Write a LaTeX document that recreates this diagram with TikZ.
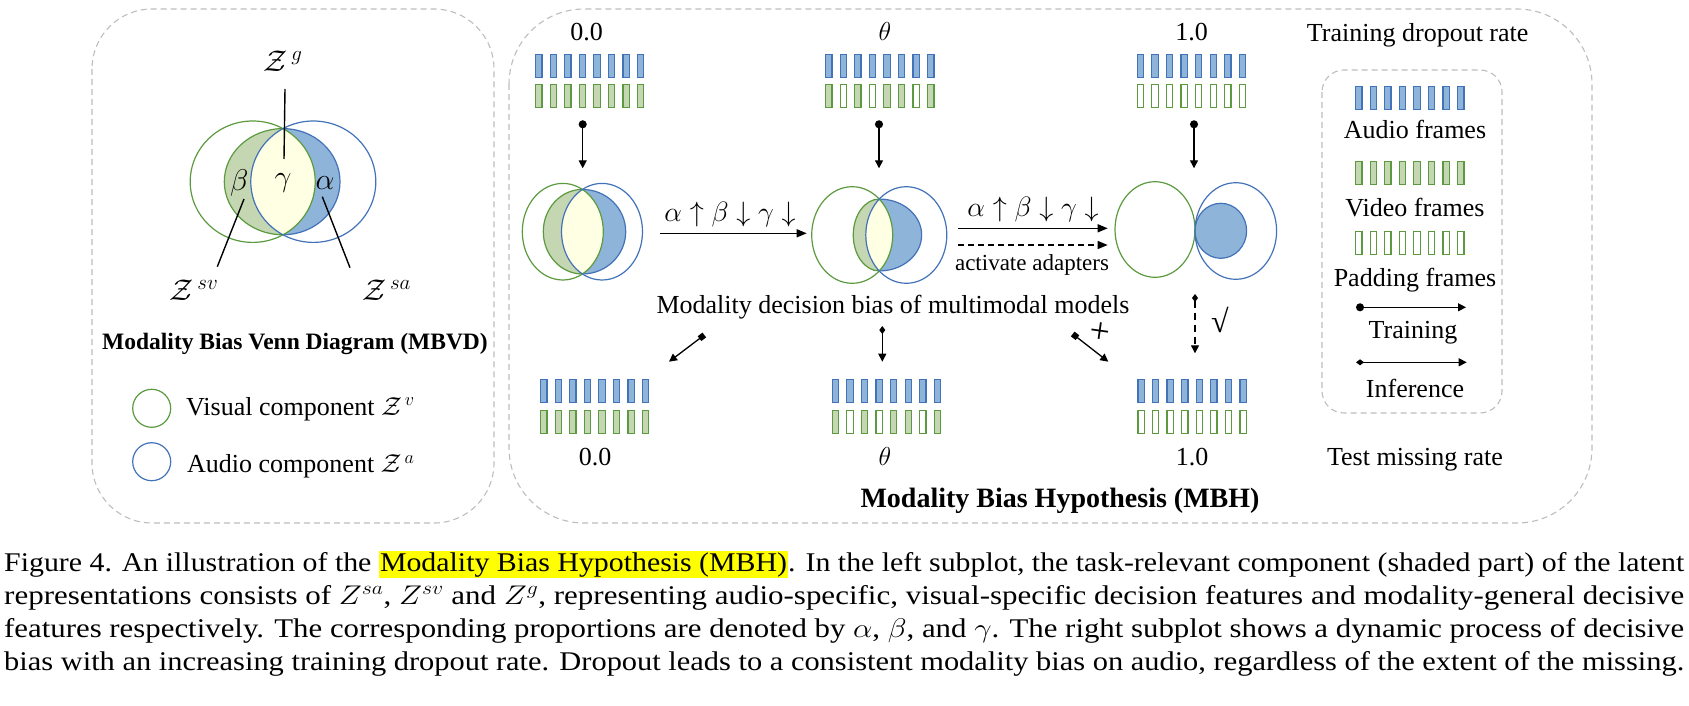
\RequirePackage{fix-cm}
\documentclass[tikz,border=0pt]{standalone}
\usepackage{fontspec}
\setmainfont{Liberation Serif}
\usepackage{graphicx}
\usetikzlibrary{arrows.meta}
\definecolor{gline}{HTML}{5B9A3E}
\definecolor{bline}{HTML}{4272B8}
\definecolor{gfill}{HTML}{C4D6B2}
\definecolor{bfill}{HTML}{8FB4D9}
\definecolor{yfill}{HTML}{FFFFE4}
\definecolor{dashgray}{HTML}{BDBDBD}
\definecolor{hl}{HTML}{FFFF00}
\newcommand{\fs}[1]{\fontsize{#1}{#1}\selectfont}
\setlength{\fboxsep}{1pt}

\newcommand{\vennfig}[7]{%
 \pgfmathsetmacro\vxi{(#1+#2)/2}%
 \pgfmathsetmacro\vdy{#5*sqrt(1-((\vxi-#1)/#4)^2)}%
 \pgfmathsetmacro\vtop{#3-\vdy}%
 \pgfmathsetmacro\vbot{#3+\vdy}%
 \fill[gfill] (\vxi,\vtop) arc[start angle=90,end angle=270,x radius=#6pt,y radius=\vdy pt] arc[start angle=-90,end angle=90,x radius=#7pt,y radius=\vdy pt] -- cycle;%
 \begin{scope}
  \clip (#2,#3) ellipse[x radius=#4pt,y radius=#5pt];
  \fill[bfill] (\vxi,\vtop) arc[start angle=90,end angle=270,x radius=#6pt,y radius=\vdy pt] arc[start angle=-90,end angle=90,x radius=#7pt,y radius=\vdy pt] -- cycle;
 \end{scope}
 \begin{scope}
  \clip (#1,#3) ellipse[x radius=#4pt,y radius=#5pt];
  \fill[yfill] (#2,#3) ellipse[x radius=#4pt,y radius=#5pt];
 \end{scope}
 \draw[gl] (\vxi,\vtop) arc[start angle=90,end angle=270,x radius=#6pt,y radius=\vdy pt];
 \draw[bl] (\vxi,\vbot) arc[start angle=-90,end angle=90,x radius=#7pt,y radius=\vdy pt];
 \draw[gl] (#1,#3) ellipse[x radius=#4pt,y radius=#5pt];
 \draw[bl] (#2,#3) ellipse[x radius=#4pt,y radius=#5pt];
}
\newcommand{\bluerow}[2]{\foreach \k in {0,...,7} {\draw[afr] ({#1+0.6+\k*14.57},{#2+0.6}) rectangle ++(6.3,23.2);}}
\newcommand{\greenrow}[3]{\foreach \f [count=\k from 0] in {#3} {\ifnum\f=1 \draw[vfr] ({#1+0.6+\k*14.57},{#2+0.6}) rectangle ++(6.3,23.2);\else \draw[pfr] ({#1+0.6+\k*14.57},{#2+0.6}) rectangle ++(6.3,23.2);\fi}}

\begin{document}
\begin{tikzpicture}[x=1pt,y=-1pt,
 lbl/.style={inner sep=0pt, font=\fs{26}},
 gl/.style={draw=gline, line width=1.2pt},
 bl/.style={draw=bline, line width=1.2pt},
 afr/.style={draw=bline, fill=bfill, line width=1.2pt},
 vfr/.style={draw=gline, fill=gfill, line width=1.2pt},
 pfr/.style={draw=gline, fill=white, line width=1.2pt},
 dbox/.style={draw=dashgray, line width=1.1pt, dash pattern=on 6pt off 4pt},
 train/.style={line width=1.3pt, arrows={Circle[length=8pt]-Triangle[length=8pt,width=8pt]}},
 infer/.style={line width=1.3pt, arrows={Diamond[length=8pt,width=6pt]-Triangle[length=8pt,width=8pt]}},
 inferq/.style={line width=1.3pt, arrows={Square[length=6pt]-Triangle[length=8pt,width=8pt]}},
 harr/.style={line width=1.3pt, -{Triangle[length=10pt,width=8pt]}},
 zline/.style={line width=1.4pt}
]
\useasboundingbox (0,0) rectangle (1689,706);

% ---------- dashed boxes ----------
\draw[dbox, rounded corners=60pt] (92,9) rectangle (494,523);
\draw[dbox, rounded corners=75pt] (509,9) rectangle (1592,523);
\draw[dbox, rounded corners=22pt] (1322,70) rectangle (1502,413);

% ---------- left subplot: MBVD ----------
\vennfig{252.7}{313.3}{181.7}{62.5}{60.7}{58.7}{57}
\node[lbl, font=\fs{30}] (beta) at (239.3,182.7) {$\beta$};
\node[lbl, font=\fs{30}] (gamma) at (283,182.7) {$\gamma$};
\node[lbl, font=\fs{30}] (alpha) at (325,182.7) {$\alpha$};
\node[lbl, anchor=base, font=\fs{30}] (zg) at (283,71.7) {$\mathcal{Z}^{\,g}$};
\node[lbl, anchor=base, font=\fs{30}] (zsv) at (194,300) {$\mathcal{Z}^{\,sv}$};
\node[lbl, anchor=base, font=\fs{30}] (zsa) at (386.7,300) {$\mathcal{Z}^{\,sa}$};
\coordinate (zga) at (285,89); \coordinate (zgb) at (284,159);
\coordinate (zsva) at (217.3,266.7); \coordinate (zsvb) at (244,199);
\coordinate (zsaa) at (350,267.7); \coordinate (zsab) at (322.3,196.7);
\draw[zline] (zga) -- (zgb);
\draw[zline] (zsva) -- (zsvb);
\draw[zline] (zsaa) -- (zsab);
\node[lbl, anchor=base, font=\bfseries\fs{23.5}] (mbvd) at (295,349) {Modality Bias Venn Diagram (MBVD)};
\draw[gl] (151.7,408.3) circle[radius=19pt];
\draw[bl] (151.7,461.7) circle[radius=19pt];
\node[lbl, anchor=base west] (vis) at (186,415) {Visual component $\mathcal{Z}^{\,v}$};
\node[lbl, anchor=base west] (aud) at (187,472.7) {Audio component $\mathcal{Z}^{\,a}$};

% ---------- top frames ----------
\node[lbl, anchor=base] (r0) at (586.7,41) {0.0};
\node[lbl, anchor=base] (rth) at (885,41) {$\theta$};
\node[lbl, anchor=base] (r1) at (1191.7,41) {1.0};
\node[lbl, anchor=base] (trd) at (1417.7,41.5) {Training dropout rate};
\bluerow{535}{54}
\greenrow{535}{84}{1,1,1,1,1,1,1,1}
\bluerow{825}{54}
\greenrow{825}{84}{1,0,1,0,1,1,0,1}
\bluerow{1136.7}{54}
\greenrow{1136.7}{84}{0,0,0,0,0,0,0,0}

% training arrows
\coordinate (t0a) at (582.7,120.3); \coordinate (t0b) at (582.7,168.3);
\coordinate (tta) at (879,120.3); \coordinate (ttb) at (879,168.3);
\coordinate (t1a) at (1194,120.3); \coordinate (t1b) at (1194,168.3);
\draw[train] (t0a) -- (t0b);
\draw[train] (tta) -- (ttb);
\draw[train] (t1a) -- (t1b);

% ---------- venn diagrams ----------
\vennfig{562.8}{602}{231.7}{40.5}{48.3}{39.1}{43.3}
\vennfig{852.2}{906.3}{235}{40.5}{48.3}{26}{42.4}
\fill[bfill] (1220.8,230.8) ellipse[x radius=25.8pt, y radius=27.5pt];
\draw[bl] (1220.8,230.8) ellipse[x radius=25.8pt, y radius=27.5pt];
\draw[gl] (1155,229.5) ellipse[x radius=40pt, y radius=47.8pt];
\draw[bl] (1235.8,231) ellipse[x radius=40.8pt, y radius=48.3pt];

% horizontal arrows
\coordinate (h1a) at (660,233.3); \coordinate (h1b) at (806.7,233.3);
\coordinate (h2a) at (958.3,228.3); \coordinate (h2b) at (1107.7,228.3);
\coordinate (h3a) at (958.3,245); \coordinate (h3b) at (1107.7,245);
\draw[harr] (h1a) -- (h1b);
\draw[harr] (h2a) -- (h2b);
\draw[harr, dash pattern=on 6pt off 4pt] (h3a) -- (h3b);
\node[lbl, anchor=base, font=\fs{28}] (ch1) at (730,221) {$\alpha\uparrow\beta\downarrow\gamma\downarrow$};
\node[lbl, anchor=base, font=\fs{28}] (ch2) at (1033,216) {$\alpha\uparrow\beta\downarrow\gamma\downarrow$};
\node[lbl, anchor=base, font=\fs{23}] (act) at (1032,270) {activate adapters};

\node[lbl, anchor=base] (mdb) at (893,313) {Modality decision bias of multimodal models};

% inference arrows
\coordinate (i1a) at (704.3,335); \coordinate (i1b) at (669,361.7);
\coordinate (i2a) at (882.3,326); \coordinate (i2b) at (882.3,361.7);
\coordinate (i3a) at (1072.7,334); \coordinate (i3b) at (1108.3,361.7);
\coordinate (i4a) at (1195,294); \coordinate (i4b) at (1195,353.3);
\draw[inferq] (i1a) -- (i1b);
\draw[infer] (i2a) -- (i2b);
\draw[inferq] (i3a) -- (i3b);
\draw[infer, dash pattern=on 7pt off 5pt] (i4a) -- (i4b);
\node[lbl, rotate=-8, font=\fs{36}] (nok) at (1100,333) {+};
\node[lbl, font=\fs{32}] (ok) at (1220,320) {√};

% ---------- bottom frames ----------
\bluerow{540}{379}
\greenrow{540}{409.5}{1,1,1,1,1,1,1,1}
\bluerow{831.7}{379}
\greenrow{831.7}{409.5}{1,0,1,0,1,1,0,1}
\bluerow{1137.3}{379}
\greenrow{1137.3}{409.5}{0,0,0,0,0,0,0,0}
\node[lbl, anchor=base] (b0) at (595,465) {0.0};
\node[lbl, anchor=base] (bth) at (885,465) {$\theta$};
\node[lbl, anchor=base] (b1) at (1192,465) {1.0};
\node[lbl, anchor=base] (tmr) at (1415,465) {Test missing rate};
\node[lbl, anchor=base, font=\bfseries\fs{28}] (mbh) at (1060,507) {Modality Bias Hypothesis (MBH)};

% ---------- legend ----------
\bluerow{1355}{86}
\greenrow{1355}{160.7}{1,1,1,1,1,1,1,1}
\greenrow{1355}{230.7}{0,0,0,0,0,0,0,0}
\node[lbl, anchor=base] (laud) at (1415,138.3) {Audio frames};
\node[lbl, anchor=base] (lvid) at (1415,216.7) {Video frames};
\node[lbl, anchor=base] (lpad) at (1415,286.7) {Padding frames};
\coordinate (lta) at (1356,307.3); \coordinate (ltb) at (1466,307.3);
\coordinate (lia) at (1356,362.3); \coordinate (lib) at (1466.7,362.3);
\draw[train] (lta) -- (ltb);
\draw[infer] (lia) -- (lib);
\node[lbl, anchor=base] (ltr) at (1413,338.3) {Training};
\node[lbl, anchor=base] (linf) at (1415,397.7) {Inference};

% ---------- caption ----------
\node[anchor=base west, inner sep=0pt, font=\fs{27}] (cap1) at (4,571) {\resizebox{1680pt}{\height}{Figure 4. An illustration of the \colorbox{hl}{Modality Bias Hypothesis (MBH)}. In the left subplot, the task-relevant component (shaded part) of the latent}};
\node[anchor=base west, inner sep=0pt, font=\fs{27}] (cap2) at (4,604) {\resizebox{1680pt}{\height}{representations consists of $Z^{sa}$, $Z^{sv}$ and $Z^{g}$, representing audio-specific, visual-specific decision features and modality-general decisive}};
\node[anchor=base west, inner sep=0pt, font=\fs{27}] (cap3) at (4,637) {\resizebox{1680pt}{\height}{features respectively. The corresponding proportions are denoted by $\alpha$, $\beta$, and $\gamma$. The right subplot shows a dynamic process of decisive}};
\node[anchor=base west, inner sep=0pt, font=\fs{27}] (cap4) at (4,670) {\resizebox{1680pt}{\height}{bias with an increasing training dropout rate. Dropout leads to a consistent modality bias on audio, regardless of the extent of the missing.}};
\end{tikzpicture}
\end{document}
